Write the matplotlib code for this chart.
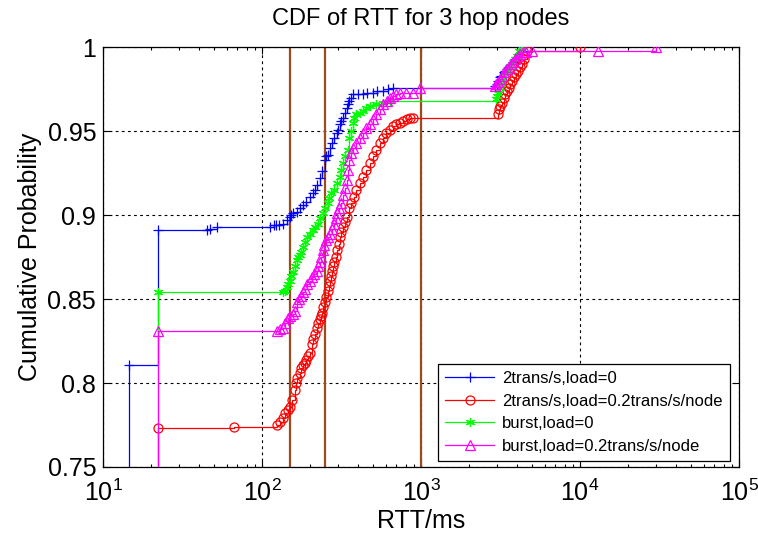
import matplotlib
matplotlib.use("Agg")
import matplotlib.pyplot as plt
from matplotlib.ticker import FormatStrFormatter, LogLocator

plt.rcParams["font.family"] = ["Liberation Sans", "DejaVu Sans"]
plt.rcParams["mathtext.fontset"] = "custom"
plt.rcParams["mathtext.rm"] = "Liberation Sans"
plt.rcParams["mathtext.it"] = "Liberation Sans:italic"
plt.rcParams["mathtext.bf"] = "Liberation Sans:bold"

# RTT (ms) / cumulative probability
blue_x = [14.6, 14.6, 22, 45, 47, 52, 112, 118, 122, 128, 135, 143, 149, 152, 157, 165,
          172, 180, 188, 199, 208, 215, 222, 230, 238, 247, 253, 258, 266, 274, 282, 294,
          301, 308, 315, 322, 330, 340, 347, 354, 362, 371, 400, 430, 460, 496, 530, 575,
          620, 664, 2900, 2990, 3060, 3120, 3200, 3300, 3380, 3460, 3560, 3660, 3780, 3880,
          4000, 4150, 4300, 4400]
blue_y = [0, 0.811, 0.891, 0.891, 0.892, 0.893, 0.893, 0.894, 0.894, 0.894, 0.895, 0.897,
          0.899, 0.900, 0.901, 0.902, 0.904, 0.906, 0.908, 0.911, 0.913, 0.915, 0.918, 0.922,
          0.926, 0.933, 0.935, 0.936, 0.940, 0.943, 0.946, 0.949, 0.951, 0.954, 0.956, 0.958,
          0.961, 0.964, 0.966, 0.968, 0.970, 0.972, 0.972, 0.972, 0.973, 0.973, 0.974, 0.974,
          0.975, 0.976, 0.977, 0.978, 0.980, 0.982, 0.983, 0.985, 0.986, 0.987, 0.988, 0.990,
          0.991, 0.993, 0.994, 0.996, 0.998, 1.0]

red_x = [22, 22, 67, 125, 130, 135, 140, 145, 150, 155, 160, 164, 167, 172, 176, 180, 185,
         190, 195, 199, 205, 210, 215, 221, 226, 230, 234, 237, 242, 247, 252, 258, 262, 266,
         270, 274, 280, 285, 292, 298, 303, 308, 315, 322, 330, 340, 352, 365, 378, 392, 410,
         430, 452, 475, 500, 524, 550, 575, 605, 636, 668, 700, 735, 770, 810, 850, 885, 3030,
         3070, 3150, 3220, 3300, 3380, 3460, 3550, 3640, 3740, 3830, 3950, 4060, 4180, 4300,
         4450, 4620, 10000]
red_y = [0, 0.773, 0.774, 0.775, 0.777, 0.779, 0.782, 0.784, 0.786, 0.790, 0.796, 0.800,
         0.803, 0.806, 0.809, 0.811, 0.812, 0.814, 0.816, 0.818, 0.823, 0.826, 0.829, 0.833,
         0.836, 0.838, 0.840, 0.842, 0.845, 0.848, 0.851, 0.855, 0.858, 0.861, 0.864, 0.867,
         0.870, 0.872, 0.875, 0.879, 0.883, 0.887, 0.890, 0.893, 0.896, 0.899, 0.904, 0.907,
         0.911, 0.915, 0.919, 0.923, 0.927, 0.931, 0.935, 0.939, 0.943, 0.946, 0.949, 0.951,
         0.953, 0.954, 0.955, 0.956, 0.957, 0.958, 0.958, 0.960, 0.963, 0.965, 0.967, 0.970,
         0.972, 0.974, 0.976, 0.978, 0.980, 0.982, 0.984, 0.986, 0.988, 0.990, 0.993, 0.998,
         1.0]

green_x = [22, 22, 135, 140, 143, 146, 149, 153, 156, 160, 165, 169, 172, 176, 180, 186, 193,
           200, 208, 216, 224, 232, 240, 249, 258, 265, 273, 285, 296, 308, 315, 322, 333, 345,
           354, 362, 371, 381, 392, 410, 430, 452, 475, 520, 575, 636, 2950, 3000, 3060, 3120,
           3200, 3280, 3380, 3460, 3560, 3660, 3780, 3880, 4000, 4150, 4300]
green_y = [0, 0.854, 0.854, 0.855, 0.857, 0.859, 0.861, 0.864, 0.866, 0.870, 0.873, 0.875,
           0.876, 0.878, 0.881, 0.884, 0.887, 0.889, 0.891, 0.893, 0.895, 0.898, 0.901, 0.904,
           0.907, 0.910, 0.913, 0.915, 0.919, 0.923, 0.927, 0.931, 0.935, 0.939, 0.946, 0.950,
           0.955, 0.958, 0.960, 0.961, 0.962, 0.964, 0.965, 0.966, 0.967, 0.968, 0.969, 0.971,
           0.973, 0.976, 0.978, 0.981, 0.984, 0.986, 0.988, 0.989, 0.991, 0.993, 0.995, 0.998,
           1.0]

mag_x = [22, 22, 125, 130, 135, 140, 145, 150, 156, 161, 165, 170, 175, 180, 186, 193, 199,
         205, 212, 221, 226, 230, 235, 240, 246, 253, 260, 266, 275, 285, 292, 298, 306, 315,
         325, 333, 340, 347, 354, 362, 371, 390, 411, 430, 452, 475, 496, 524, 551, 580, 607,
         636, 664, 700, 734, 800, 885, 980, 2900, 2960, 3030, 3120, 3220, 3320, 3460, 3560,
         3660, 3780, 3900, 4050, 4200, 4370, 4600, 5000, 13000, 30000]
mag_y = [0, 0.831, 0.831, 0.832, 0.833, 0.836, 0.839, 0.840, 0.841, 0.843, 0.848, 0.850,
         0.852, 0.854, 0.856, 0.859, 0.861, 0.863, 0.865, 0.867, 0.870, 0.872, 0.875, 0.879,
         0.882, 0.885, 0.887, 0.889, 0.892, 0.895, 0.898, 0.901, 0.904, 0.907, 0.912, 0.916,
         0.921, 0.927, 0.933, 0.937, 0.940, 0.943, 0.946, 0.949, 0.952, 0.954, 0.957, 0.960,
         0.963, 0.966, 0.968, 0.970, 0.971, 0.972, 0.973, 0.973, 0.973, 0.976, 0.977, 0.978,
         0.979, 0.981, 0.983, 0.985, 0.987, 0.988, 0.990, 0.991, 0.993, 0.995, 0.996, 0.997,
         0.997, 0.998, 0.998, 1.0]

labels = ["2trans/s,load=0", "2trans/s,load=0.2trans/s/node",
          "burst,load=0", "burst,load=0.2trans/s/node"]
ref_lines = [150, 250, 1000]
y_ticks = [0.75, 0.8, 0.85, 0.9, 0.95, 1.0]

fig = plt.figure(figsize=(7.58, 5.43), dpi=100)
ax = fig.add_axes([0.136, 0.140, 0.839, 0.773])

for v in ref_lines:
    ax.axvline(v, color="#9E4A1B", linewidth=1.6, zorder=2)

# asterisk marker like matlab's '*'
star = (6, 2, 0)
series = [
    (blue_x, blue_y, "#0000FF", "+", "#0000FF"),
    (red_x, red_y, "#FF0000", "o", "none"),
    (green_x, green_y, "#00FF00", star, "#00FF00"),
    (mag_x, mag_y, "#FF00FF", "^", "none"),
]
for (x, y, c, m, fc), lab in zip(series, labels):
    ax.step(x, y, where="post", color=c, linewidth=0.9, marker=m,
            markersize=6.5, markerfacecolor=fc, markeredgecolor=c,
            markeredgewidth=0.9, label=lab, zorder=3)

ax.set_xscale("log")
ax.set_xlim(10, 1e5)
ax.set_ylim(0.75, 1.0)
ax.set_yticks(y_ticks)
ax.yaxis.set_major_formatter(FormatStrFormatter("%g"))
ax.xaxis.set_major_locator(LogLocator(base=10, numticks=10))

ax.grid(True, which="major", color="black", linestyle=(0, (2.5, 3)), linewidth=0.8)
ax.tick_params(which="both", direction="in", top=True, right=True, width=0.8)
ax.tick_params(which="major", length=5, labelsize=18)
ax.tick_params(which="minor", length=2.5)
ax.tick_params(axis="y", pad=5)
ax.tick_params(axis="x", pad=9)
for s in ax.spines.values():
    s.set_linewidth(0.9)

ax.set_title("CDF of RTT for 3 hop nodes", fontsize=17, pad=16)
ax.set_xlabel("RTT/ms", fontsize=18, labelpad=2)
ax.set_ylabel("Cumulative Probability", fontsize=18, labelpad=4)

leg = ax.legend(loc="lower right", bbox_to_anchor=(0.986, 0.014), borderaxespad=0,
                fontsize=12, numpoints=1, handlelength=2.9, handletextpad=0.5,
                labelspacing=0.45, borderpad=0.45, fancybox=False, framealpha=1)
leg.get_frame().set_edgecolor("black")
leg.get_frame().set_linewidth(0.9)

fig.savefig("out.png", dpi=100)
